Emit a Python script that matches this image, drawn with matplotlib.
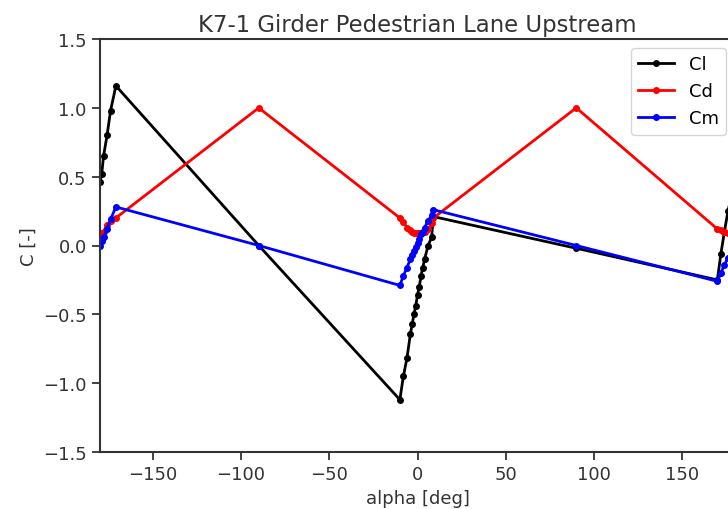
import matplotlib
matplotlib.use("Agg")
import matplotlib.pyplot as plt

alpha = [-180, -179, -178, -176, -174, -171, -90, -10, -8, -6, -4, -3, -2, -1, 0,
         1, 2, 3, 4, 6, 8, 9, 90, 170, 172, 174, 176, 178, 180]
Cl = [0.46, 0.52, 0.65, 0.80, 0.98, 1.16, 0.0, -1.12, -0.95, -0.82, -0.64, -0.57, -0.50, -0.44, -0.36,
      -0.30, -0.22, -0.16, -0.10, 0.0, 0.06, 0.21, -0.02, -0.25, -0.06, 0.10, 0.25, 0.36, 0.46]
Cd = [0.08, 0.09, 0.10, 0.15, 0.18, 0.20, 1.0, 0.20, 0.17, 0.13, 0.11, 0.10, 0.09, 0.09, 0.09,
      0.09, 0.09, 0.10, 0.10, 0.12, 0.16, 0.20, 1.0, 0.12, 0.11, 0.10, 0.09, 0.09, 0.08]
Cm = [0.0, 0.03, 0.06, 0.12, 0.19, 0.28, 0.0, -0.29, -0.22, -0.16, -0.10, -0.07, -0.04, -0.01, 0.02,
      0.05, 0.08, 0.10, 0.13, 0.18, 0.22, 0.26, 0.0, -0.26, -0.20, -0.14, -0.09, -0.04, 0.0]

series_names = ["Cl", "Cd", "Cm"]
colors = ["black", "red", "blue"]

fig = plt.figure(figsize=(7.28, 5.10), dpi=100)
ax = fig.add_axes([100/728, 1-453/510, 635/728, 413/510])

for name, vals, c in zip(series_names, [Cl, Cd, Cm], colors):
    ax.plot(alpha, vals, color=c, marker='.', markersize=8, linewidth=2, label=name)

ax.set_xlim(-180, 180)
ax.set_ylim(-1.5, 1.5)
ax.set_xticks([-150, -100, -50, 0, 50, 100, 150])
ax.set_yticks([-1.5, -1.0, -0.5, 0.0, 0.5, 1.0, 1.5])
ax.tick_params(labelsize=13, length=6, width=1.3, colors='#333333', labelcolor='#333333')
for s in ax.spines.values():
    s.set_linewidth(1.5)
    s.set_color('#333333')
ax.set_xlabel("alpha [deg]", fontsize=13, color='#333333')
ax.set_ylabel("C [-]", fontsize=13, color='#333333')
ax.set_title("K7-1 Girder Pedestrian Lane Upstream", fontsize=16.4, color='#333333')
ax.legend(loc='upper right', fontsize=13)

fig.savefig("out.png", dpi=100)
